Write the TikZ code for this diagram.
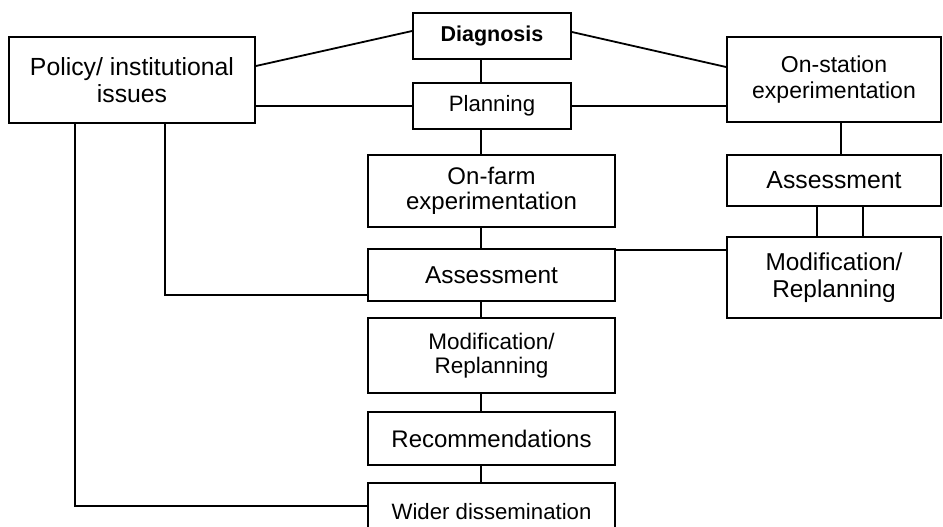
\documentclass[tikz,border=0pt]{standalone}
\usepackage{fontspec}
\setmainfont{Liberation Sans}
\begin{document}
\begin{tikzpicture}[x=1pt,y=-1pt,
  box/.style={draw, line width=1.8pt, inner sep=0pt, align=center, text=black},
  link/.style={line width=1.8pt},
  fa/.style={font=\fontsize{24.8}{27}\selectfont},
  fb/.style={font=\fontsize{22.2}{24}\selectfont},
  fd/.style={font=\bfseries\fontsize{21.5}{24}\selectfont}]
\useasboundingbox (0,0) rectangle (943,527);
\clip (0,0) rectangle (943,527);
% nodes
\node[box, fa, minimum width=246pt, minimum height=86pt] (policy) at (132,80) {Policy/ institutional\\issues};
\node[box, fd, minimum width=158pt, minimum height=46pt] (diag) at (492,36) {Diagnosis};
\node[box, fb, minimum width=158pt, minimum height=46pt] (plan) at (492,106) {Planning};
\node[box, fb, minimum width=214pt, minimum height=85pt, font=\fontsize{23}{25.5}\selectfont] (onstation) at (834,79.5) {On-station\\experimentation};
\node[box, fa, minimum width=247pt, minimum height=72pt, font=\fontsize{24}{25.5}\selectfont] (onfarm) at (491.5,191) {On-farm\\experimentation};
\node[box, fa, minimum width=214pt, minimum height=51pt] (rassess) at (834,180.5) {Assessment};
\node[box, fa, minimum width=214pt, minimum height=81pt, font=\fontsize{24.4}{26.5}\selectfont] (rmod) at (834,277.5) {Modification/\\Replanning};
\node[box, fa, minimum width=247pt, minimum height=52pt, font=\fontsize{24.4}{26.5}\selectfont] (assess) at (491.5,275) {Assessment};
\node[box, fb, minimum width=247pt, minimum height=75pt, font=\fontsize{22.5}{23.5}\selectfont] (mmod) at (491.5,355.5) {Modification/\\Replanning};
\node[box, fa, minimum width=247pt, minimum height=53pt, font=\fontsize{24}{26}\selectfont] (recom) at (491.5,438.5) {Recommendations};
\node[box, fb, minimum width=247pt, minimum height=57pt] (wider) at (491.5,511.5) {Wider dissemination};
% helper coordinates
\coordinate (spine) at (481,0);
\coordinate (rspine) at (841,0);
\coordinate (rl) at (817,0);
\coordinate (rr) at (863,0);
\coordinate (pl) at (75,0);
\coordinate (pr) at (165,0);
\coordinate (lowrow) at (0,506);
% connectors
\draw[link] ([yshift=14pt]policy.east) -- ([yshift=5pt]diag.west);
\draw[link] (policy.east |- plan.west) -- (plan.west);
\draw[link] ([yshift=4pt]diag.east) -- ([yshift=12.5pt]onstation.west);
\draw[link] (plan.east) -- (plan.east -| onstation.west);
\draw[link] (spine |- diag.south) -- (spine |- plan.north);
\draw[link] (spine |- plan.south) -- (spine |- onfarm.north);
\draw[link] (spine |- onfarm.south) -- (spine |- assess.north);
\draw[link] (spine |- assess.south) -- (spine |- mmod.north);
\draw[link] (spine |- mmod.south) -- (spine |- recom.north);
\draw[link] (spine |- recom.south) -- (spine |- wider.north);
\draw[link] (rspine |- onstation.south) -- (rspine |- rassess.north);
\draw[link] (rl |- rassess.south) -- (rl |- rmod.north);
\draw[link] (rr |- rassess.south) -- (rr |- rmod.north);
\draw[link] ([yshift=-2pt]assess.north east) -- ([yshift=-2pt]assess.north east -| rmod.west);
\draw[link] (pr |- policy.south) |- ([yshift=-20pt]assess.west);
\draw[link] (pl |- policy.south) |- (wider.west |- lowrow);
\end{tikzpicture}
\end{document}
